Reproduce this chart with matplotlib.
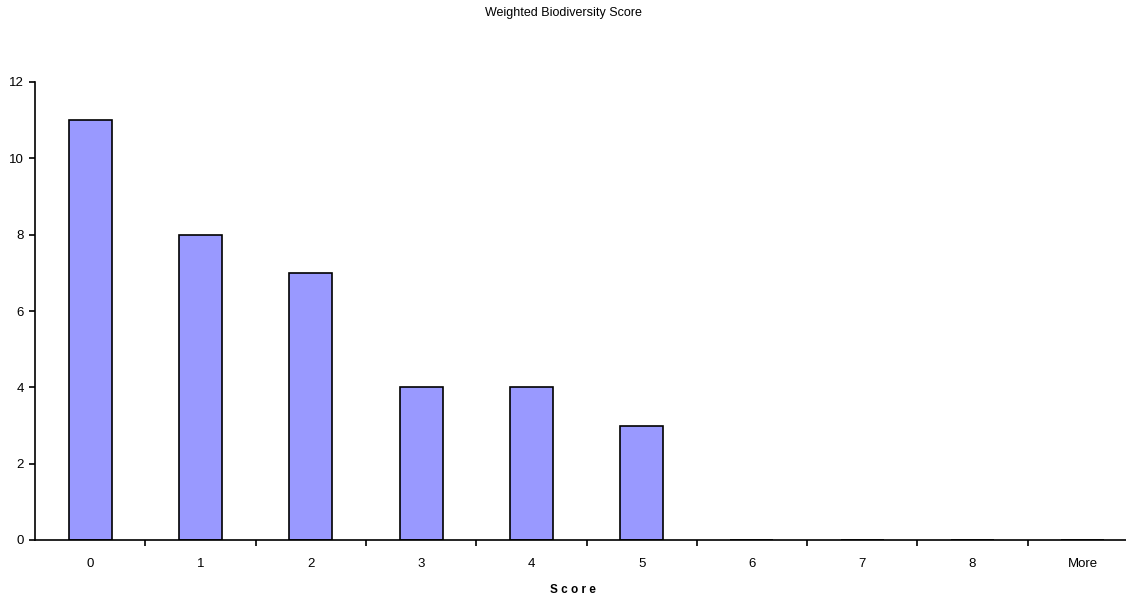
import numpy as np
import matplotlib.pyplot as plt

categories = ["0", "1", "2", "3", "4", "5", "6", "7", "8", "More"]
counts = [11, 8, 7, 4, 4, 3, 0, 0, 0, 0]
y_ticks = [0, 2, 4, 6, 8, 10, 12]

plt.rcParams['font.family'] = ['Liberation Sans', 'DejaVu Sans']

fig = plt.figure(figsize=(11.26, 5.97), dpi=100)
ax = fig.add_axes([35 / 1126, 1 - 540 / 597, (1138 - 35) / 1126, (540 - 82) / 597])

x = np.arange(len(categories))
ax.bar(x, counts, width=0.39, color='#9999FF', edgecolor='black', linewidth=1.2)

ax.set_xlim(-0.5, len(categories) - 0.5)
ax.set_ylim(0, 12)
ax.set_yticks(y_ticks)
ax.set_yticklabels([str(v) for v in y_ticks], fontsize=9.5)
ax.set_xticks(x)
ax.set_xticklabels(categories, fontsize=9.5)
ax.tick_params(axis='x', which='major', length=0, pad=13)
ax.set_xticks(np.arange(0.5, len(categories) - 0.5), minor=True)
ax.tick_params(axis='x', which='minor', length=4, width=1.2, direction='out')
ax.tick_params(axis='y', length=4, width=1.2, direction='out', pad=4)

for side in ['top', 'right']:
    ax.spines[side].set_visible(False)
for side in ['left', 'bottom']:
    ax.spines[side].set_linewidth(1.2)

fig.text(573 / 1126, 1 - 590 / 597, "S c o r e", ha='center', va='center',
         fontsize=8.5, fontweight='bold')
fig.text(0.5, 1 - 13 / 597, "Weighted Biodiversity Score", ha='center', va='center', fontsize=9)

fig.savefig("out.png", dpi=100)
